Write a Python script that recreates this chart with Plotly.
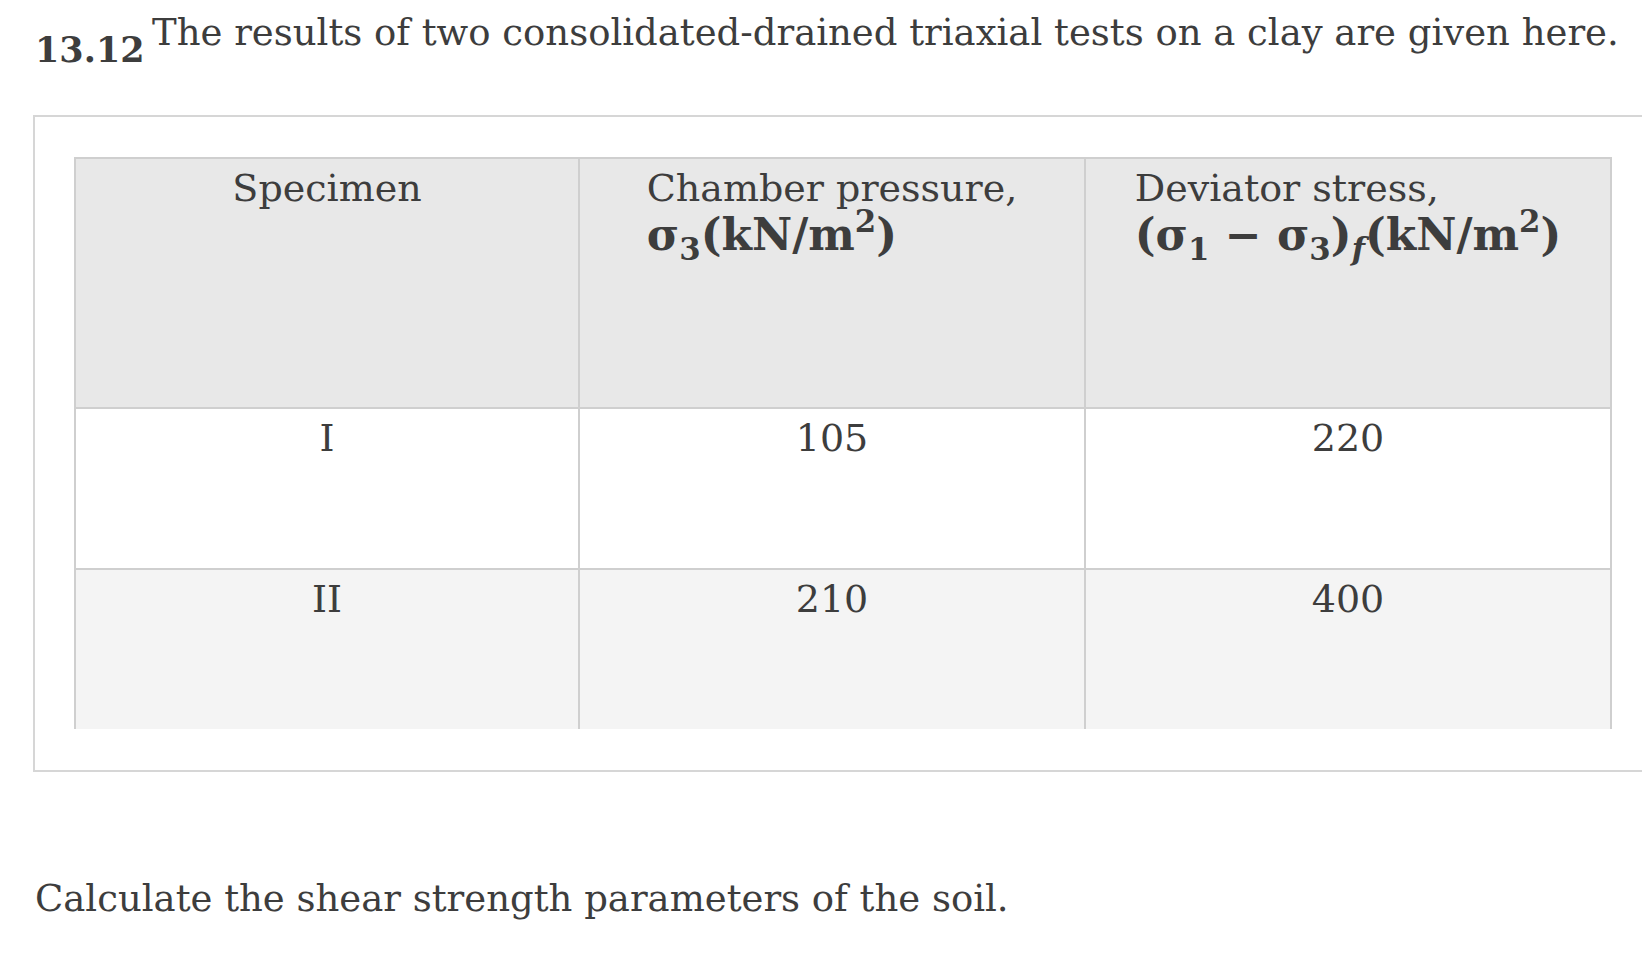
import plotly.graph_objects as go

W, H = 1650, 955
specimen = ["I", "II"]
chamber_pressure = [105, 210]
deviator_stress = [220, 400]
headers = ["<br>Specimen",
           "<br>Chamber pressure,<br><span style='font-size:44px'><b>σ<sub>3</sub>(kN/m<sup>2</sup>)</b></span>",
           "<br>Deviator stress,<br><span style='font-size:44px'><b>(σ<sub>1</sub> − σ<sub>3</sub>)<sub><i>f</i></sub>(kN/m<sup>2</sup>)</b></span>"]

FONT = "DejaVu Serif"
TXT = "#3d3d3d"

def px(x):
    return x / W

def py(y):
    return 1 - y / H

cells = [["<br>" + str(v) for v in col] for col in (specimen, chamber_pressure, deviator_stress)]

fig = go.Figure(go.Table(
    domain=dict(x=[px(67), px(1603)], y=[py(722), py(150)]),
    columnwidth=[504, 506, 526],
    header=dict(values=headers, height=250, fill_color="#e8e8e8",
                line=dict(color="#cfcfcf", width=1.5),
                font=dict(family=FONT, size=38, color=TXT), align="center"),
    cells=dict(values=cells, height=161,
               fill_color=[["#ffffff", "#f4f4f4"]],
               line=dict(color="#cfcfcf", width=1.5),
               font=dict(family=FONT, size=38, color=TXT), align="center"),
))

fig.add_shape(type="rect", xref="paper", yref="paper",
              x0=px(26), x1=px(1680), y0=py(763), y1=py(108),
              line=dict(color="#d6d6d6", width=2), layer="below")

fig.add_annotation(x=px(25), y=py(42), xref="paper", yref="paper", xanchor="left", yanchor="middle",
                   text="<b>13.12</b>", showarrow=False, font=dict(family=FONT, size=35, color=TXT))
fig.add_annotation(x=px(142), y=py(25), xref="paper", yref="paper", xanchor="left", yanchor="middle",
                   text="The results of two consolidated-drained triaxial tests on a clay are given here.",
                   showarrow=False, font=dict(family=FONT, size=37, color=TXT))
fig.add_annotation(x=px(25), y=py(890), xref="paper", yref="paper", xanchor="left", yanchor="middle",
                   text="Calculate the shear strength parameters of the soil.",
                   showarrow=False, font=dict(family=FONT, size=37, color=TXT))

fig.update_layout(width=W, height=H, margin=dict(l=0, r=0, t=0, b=0),
                  paper_bgcolor="white", plot_bgcolor="white")
fig.write_html("out.html")
